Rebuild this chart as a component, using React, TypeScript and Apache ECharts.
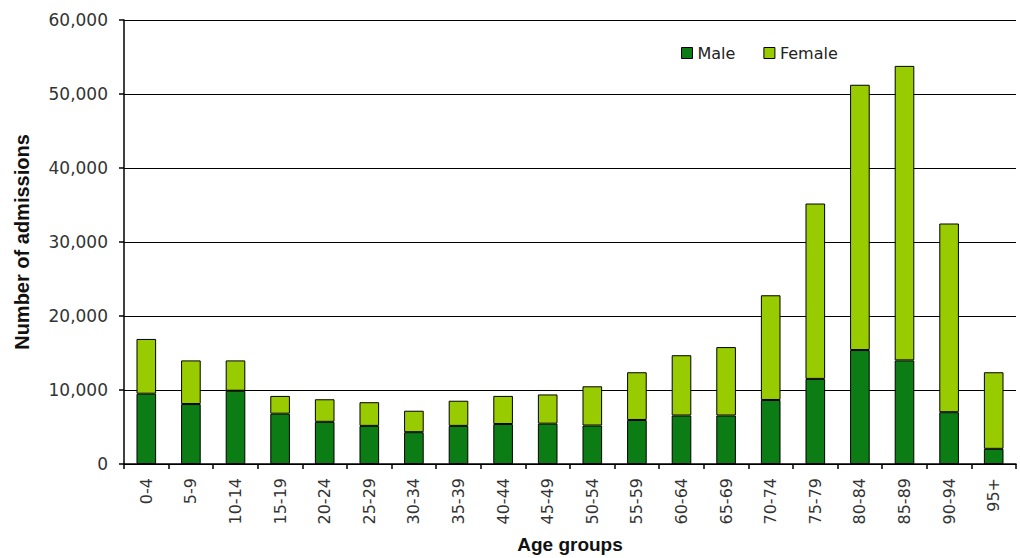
import React, { useEffect, useRef } from "react";
import * as echarts from "echarts";

// Age groups along the x axis
const ageGroups = [
  "0-4", "5-9", "10-14", "15-19", "20-24", "25-29", "30-34", "35-39", "40-44", "45-49",
  "50-54", "55-59", "60-64", "65-69", "70-74", "75-79", "80-84", "85-89", "90-94", "95+",
];

// Admissions by sex (stacked)
const maleAdmissions = [
  9500, 8100, 9900, 6800, 5700, 5150, 4300, 5150, 5400, 5450,
  5200, 5950, 6550, 6550, 8650, 11500, 15400, 14000, 7000, 2050,
];
const femaleAdmissions = [
  7400, 5900, 4100, 2400, 3050, 3200, 2900, 3400, 3800, 3950,
  5300, 6450, 8150, 9250, 14150, 23700, 35850, 39800, 25500, 10350,
];

const yTicks = [0, 10000, 20000, 30000, 40000, 50000, 60000];

const MALE_COLOR = "#0c7d14";
const FEMALE_COLOR = "#99cc00";

export default function App() {
  const ref = useRef<HTMLDivElement>(null);

  useEffect(() => {
    if (!ref.current) return;
    const chart = echarts.init(ref.current, undefined, { renderer: "svg" });
    const labelFont = "'DejaVu Sans', Verdana, sans-serif";
    const titleFont = "Arial, 'Liberation Sans', sans-serif";
    chart.setOption({
      animation: false,
      backgroundColor: "#ffffff",
      textStyle: { fontFamily: labelFont },
      grid: { left: 124, top: 20, right: 4, bottom: 94, outerBoundsMode: "none", containLabel: false },
      legend: {
        left: 676,
        top: 40,
        itemWidth: 11,
        itemHeight: 11,
        itemGap: 28,
        icon: "rect",
        textStyle: { fontFamily: labelFont, fontSize: 16, color: "#222" },
        itemStyle: { borderColor: "#000", borderWidth: 1 },
        data: ["Male", "Female"],
      },
      xAxis: {
        type: "category",
        data: ageGroups,
        name: "Age groups",
        nameLocation: "middle",
        nameGap: 71,
        nameTextStyle: { fontFamily: titleFont, fontSize: 19, fontWeight: "bold", color: "#111" },
        axisLine: { lineStyle: { color: "#000", width: 1.5 } },
        axisTick: { show: true, length: 5, lineStyle: { color: "#000", width: 1.5 } },
        axisLabel: { rotate: 90, fontFamily: labelFont, fontSize: 16, color: "#333", margin: 14 },
      },
      yAxis: {
        type: "value",
        min: 0,
        max: 60000,
        interval: 10000,
        name: "Number of admissions",
        nameLocation: "middle",
        nameGap: 92,
        nameTextStyle: { fontFamily: titleFont, fontSize: 20, fontWeight: "bold", color: "#111" },
        axisLine: { show: true, lineStyle: { color: "#000", width: 1.5 } },
        axisTick: { show: true, length: 5, lineStyle: { color: "#000", width: 1.5 } },
        splitLine: { show: true, lineStyle: { color: "#000", width: 1 } },
        axisLabel: {
          fontFamily: labelFont,
          fontSize: 17,
          color: "#333",
          margin: 16,
          formatter: (v: number) => (yTicks.includes(v) ? v.toLocaleString("en-US") : ""),
        },
      },
      series: [
        {
          name: "Male",
          type: "bar",
          stack: "total",
          data: maleAdmissions,
          barWidth: "44%",
          itemStyle: { color: MALE_COLOR, borderColor: "#000", borderWidth: 1 },
        },
        {
          name: "Female",
          type: "bar",
          stack: "total",
          data: femaleAdmissions,
          barWidth: "44%",
          itemStyle: { color: FEMALE_COLOR, borderColor: "#000", borderWidth: 1 },
        },
      ],
    });
    return () => chart.dispose();
  }, []);

  return (
    <div
      ref={ref}
      style={{ position: "fixed", left: 0, top: 0, width: 1020, height: 558 }}
    />
  );
}
